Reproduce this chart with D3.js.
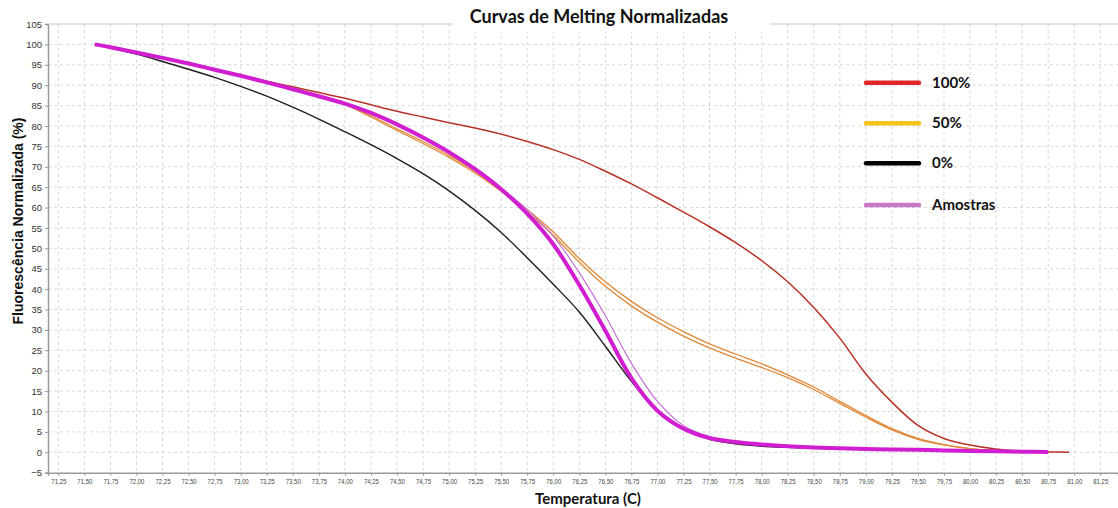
<!DOCTYPE html>
<html>
<head>
<meta charset="utf-8">
<script src="https://cdn.jsdelivr.net/npm/d3@7"></script>
<style>
  body { margin: 0; background: #fff; }
  text { font-family: "Liberation Sans", Arial, sans-serif; }
</style>
</head>
<body>
<svg id="chart" width="1118" height="508"></svg>
<script>
// temperatures (C) shared by all curves
const temps = [71.6, 71.75, 72.0, 72.25, 72.5, 72.75, 73.0, 73.25, 73.5, 73.75,
  74.0, 74.25, 74.5, 74.75, 75.0, 75.25, 75.5, 75.75, 76.0, 76.25,
  76.5, 76.75, 77.0, 77.25, 77.5, 77.75, 78.0, 78.25, 78.5, 78.75,
  79.0, 79.25, 79.5, 79.75, 80.0, 80.25, 80.5, 80.75, 80.95];

const red100 = [100, 99.3, 98.0, 96.8, 95.5, 94.0, 92.5, 91.0, 89.6, 88.2,
  86.8, 85.2, 83.6, 82.2, 80.8, 79.5, 78.0, 76.2, 74.2, 71.8,
  68.9, 65.8, 62.4, 58.9, 55.3, 51.4, 47.0, 41.8, 35.5, 28.0,
  19.2, 12.3, 6.6, 3.4, 1.8, 0.8, 0.3, 0.1, 0];

const orange50a = [100, 99.3, 98.0, 96.7, 95.3, 93.8, 92.3, 90.8, 89.2, 87.5,
  85.5, 82.5, 79.3, 76.2, 72.8, 69.0, 64.5, 59.5, 54.0, 47.5,
  41.8, 37.0, 33.0, 29.6, 26.6, 24.1, 21.7, 19.0, 16.0, 12.5,
  9.0, 5.8, 3.4, 1.9, 0.9, 0.4, 0.15, 0.05, null];

const orange50b = [100, 99.3, 98.0, 96.7, 95.3, 93.8, 92.3, 90.8, 89.2, 87.4,
  85.3, 82.2, 78.9, 75.7, 72.3, 68.5, 64.0, 58.9, 53.2, 46.6,
  40.7, 35.9, 31.9, 28.5, 25.6, 23.1, 20.8, 18.3, 15.4, 12.0,
  8.6, 5.5, 3.2, 1.8, 0.9, 0.4, 0.1, 0.0, null];

const black0 = [100, 99.1, 97.6, 95.8, 93.9, 91.9, 89.7, 87.3, 84.6, 81.7,
  78.6, 75.4, 72.0, 68.3, 64.1, 59.3, 53.9, 47.7, 41.2, 34.4,
  26.0, 17.4, 10.3, 5.8, 3.2, 2.1, 1.5, 1.2, 1.0, 0.85,
  0.7, 0.6, 0.5, 0.4, 0.3, 0.2, 0.1, 0.0, null];

const amostras = [100, 99.3, 98.0, 96.7, 95.3, 93.8, 92.3, 90.7, 89.0, 87.3,
  85.5, 83.2, 80.4, 77.2, 73.6, 69.4, 64.5, 58.5, 51.0, 41.0,
  29.8, 18.2, 10.2, 5.8, 3.5, 2.5, 1.9, 1.5, 1.2, 1.0,
  0.8, 0.7, 0.6, 0.45, 0.35, 0.25, 0.15, 0.05, null];

const amostrasThin = [100, 99.3, 98.0, 96.7, 95.3, 93.8, 92.3, 90.7, 89.0, 87.3,
  85.5, 83.2, 80.4, 77.2, 73.6, 69.4, 64.8, 59.5, 53.0, 44.0,
  33.5, 21.8, 12.5, 6.6, 3.8, 2.6, 1.9, 1.5, 1.2, 1.0,
  0.8, 0.7, 0.6, 0.45, 0.35, 0.25, 0.15, null, null];

const legendLabels = ["100%", "50%", "0%", "Amostras"];
const legendColors = ["#e0262a", "#f6c21c", "#000000", "#c878c8"];

const xTicks = d3.range(71.25, 81.26, 0.25);
const yTicks = d3.range(-5, 106, 5);

const svg = d3.select("#chart");
const x = d3.scaleLinear().domain([71.151, 81.42]).range([48, 1118]);
const y = d3.scaleLinear().domain([-5, 105]).range([472.7, 24]);

// grid
svg.append("g").selectAll("line").data(xTicks).join("line")
  .attr("x1", d => x(d)).attr("x2", d => x(d))
  .attr("y1", y(105)).attr("y2", y(-5))
  .attr("stroke", "#d8d8d8").attr("stroke-dasharray", "3,3");
svg.append("g").selectAll("line").data(yTicks.filter(d => d > -5 && d < 105)).join("line")
  .attr("x1", 48).attr("x2", 1118)
  .attr("y1", d => y(d)).attr("y2", d => y(d))
  .attr("stroke", "#d8d8d8").attr("stroke-dasharray", "3,3");

// axes
const yAxis = svg.append("g").attr("transform", "translate(48,0)")
  .call(d3.axisLeft(y).tickValues(yTicks).tickSize(3).tickPadding(3));
const xAxis = svg.append("g").attr("transform", `translate(0,${y(-5)})`)
  .call(d3.axisBottom(x).tickValues(xTicks).tickSize(3).tickPadding(3)
    .tickFormat(d => d3.format(".2f")(d).replace(".", ",")));
[yAxis, xAxis].forEach(a => {
  a.select(".domain").attr("stroke", "#9a9a9a").attr("stroke-width", 1.5);
  a.selectAll(".tick line").attr("stroke", "#9a9a9a");
});
yAxis.selectAll("text").attr("font-size", 9.5).attr("fill", "#333")
  .attr("font-family", "Liberation Sans, Arial, sans-serif");
xAxis.selectAll("text").attr("font-size", 8).attr("fill", "#444")
  .attr("font-family", "Liberation Sans, Arial, sans-serif")
  .attr("textLength", 15).attr("lengthAdjust", "spacingAndGlyphs");

// top border
svg.append("line").attr("x1", 48).attr("x2", 1118)
  .attr("y1", y(105)).attr("y2", y(105))
  .attr("stroke", "#c8c8c8").attr("stroke-width", 1.2);

// curves
const line = d3.line()
  .defined(d => d[1] != null)
  .x(d => x(d[0])).y(d => y(d[1]))
  .curve(d3.curveCatmullRom.alpha(0.5));
const pts = vals => temps.map((t, i) => [t, vals[i]]);

const series = [
  { vals: black0, color: "#1e1e1e", w: 1.4 },
  { vals: orange50a, color: "#e08838", w: 1.3 },
  { vals: orange50b, color: "#e08838", w: 1.3 },
  { vals: red100, color: "#b83228", w: 1.5 },
  { vals: amostrasThin, color: "#c46ad6", w: 1.1 },
  { vals: amostras, color: "#d11ed1", w: 4 }
];
svg.append("g").selectAll("path").data(series).join("path")
  .attr("d", d => line(pts(d.vals)))
  .attr("fill", "none")
  .attr("stroke", d => d.color)
  .attr("stroke-width", d => d.w)
  .attr("stroke-linejoin", "round");

// legend
const legend = svg.append("g").selectAll("g").data(legendLabels).join("g")
  .attr("transform", (d, i) => `translate(0,${[82.7, 123.3, 163.3, 205][i]})`);
legend.append("line").attr("x1", 866).attr("x2", 919)
  .attr("stroke", (d, i) => legendColors[i]).attr("stroke-width", 4.5)
  .attr("stroke-linecap", "round");
legend.append("text").attr("x", 932).attr("y", 1)
  .attr("dominant-baseline", "middle")
  .style("font-family", "Lato, sans-serif").style("font-weight", "bold")
  .attr("font-size", 15).attr("fill", "#111").text(d => d);

// title
svg.append("rect").attr("x", 453).attr("y", 0).attr("width", 317).attr("height", 32).attr("fill", "#fff");
svg.append("text").attr("x", 599).attr("y", 23).attr("text-anchor", "middle")
  .style("font-family", "Lato, sans-serif").style("font-weight", "bold")
  .attr("font-size", 18).attr("fill", "#111").text("Curvas de Melting Normalizadas");

// axis titles
svg.append("text").attr("x", 588).attr("y", 504).attr("text-anchor", "middle")
  .style("font-family", "Lato, sans-serif").style("font-weight", "bold")
  .attr("font-size", 15).attr("fill", "#111").text("Temperatura (C)");
svg.append("text").attr("transform", "translate(23,221) rotate(-90)")
  .attr("text-anchor", "middle").style("font-weight", "bold")
  .attr("font-size", 14).attr("fill", "#111").text("Fluorescência Normalizada (%)");
</script>
</body>
</html>
